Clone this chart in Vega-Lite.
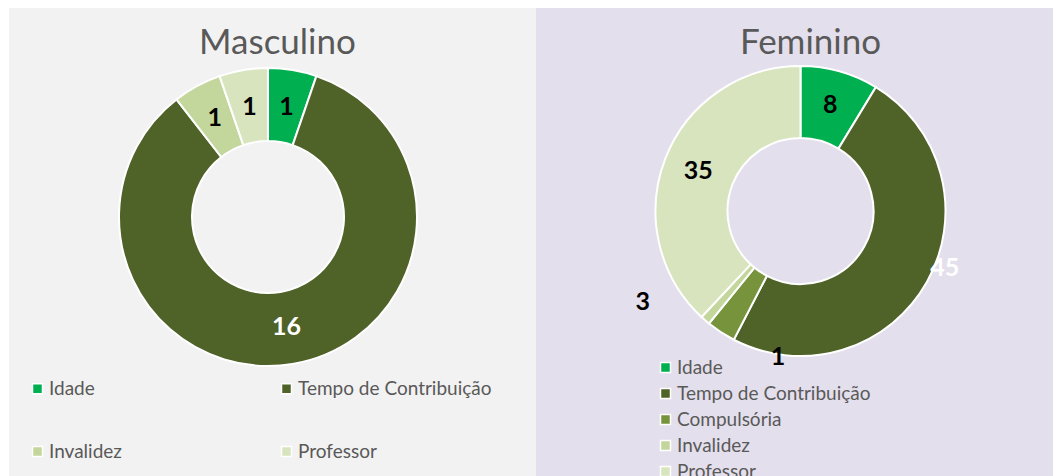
{
  "$schema": "https://vega.github.io/schema/vega-lite/v6.json",
  "background": "white",
  "padding": {"left": 9, "top": 8, "right": 0, "bottom": 0},
  "spacing": 0,
  "config": {"view": {"stroke": null}, "font": "Lato"},
  "datasets": {
    "masc": [
      {"cat": "Idade", "n": 1, "rank": 1},
      {"cat": "Tempo de Contribuição", "n": 16, "rank": 2},
      {"cat": "Invalidez", "n": 1, "rank": 4},
      {"cat": "Professor", "n": 1, "rank": 5}
    ],
    "fem": [
      {"cat": "Idade", "n": 8, "rank": 1},
      {"cat": "Tempo de Contribuição", "n": 45, "rank": 2},
      {"cat": "Compulsória", "n": 3, "rank": 3},
      {"cat": "Invalidez", "n": 1, "rank": 4},
      {"cat": "Professor", "n": 35, "rank": 5}
    ]
  },
  "resolve": {"scale": {"color": "independent", "theta": "independent"}, "legend": {"color": "independent"}},
  "hconcat": [
    {
      "width": 527,
      "height": 468,
      "view": {"fill": "#f2f2f2", "stroke": null},
      "title": {"text": "Masculino", "font": "Lato", "fontSize": 35, "fontWeight": "normal", "color": "#595959", "offset": -81, "baseline": "alphabetic", "frame": "group", "anchor": "middle", "dx": 5},
      "data": {"name": "masc"},
      "encoding": {
        "theta": {"field": "n", "type": "quantitative", "stack": true},
        "order": {"field": "rank", "type": "quantitative"}
      },
      "layer": [
        {
          "mark": {"type": "arc", "outerRadius": 149, "innerRadius": 76, "stroke": "white", "strokeWidth": 2, "x": 259, "y": 209},
          "encoding": {
            "color": {
              "field": "cat", "type": "nominal",
              "scale": {"domain": ["Idade", "Tempo de Contribuição", "Invalidez", "Professor"], "range": ["#00b050", "#4f6228", "#c3d69b", "#d7e4bd"]},
              "legend": {"orient": "none", "direction": "horizontal", "legendX": 19, "legendY": 371, "columns": 2, "title": null, "symbolType": "square", "symbolSize": 100, "symbolStrokeColor": "white", "symbolStrokeWidth": 1.5, "labelFont": "Lato", "labelFontSize": 19, "labelColor": "#595959", "labelOffset": 2, "labelLimit": 400, "rowPadding": 43, "columnPadding": 155, "padding": 0}
            }
          }
        },
        {
          "mark": {"type": "text", "radius": 112, "font": "Lato", "fontSize": 25, "fontWeight": "bold", "x": 259, "y": 209},
          "encoding": {
            "text": {"field": "n", "type": "quantitative"},
            "color": {"condition": {"test": "datum.cat === 'Tempo de Contribuição'", "value": "white"}, "value": "black"}
          }
        }
      ]
    },
    {
      "width": 517,
      "height": 468,
      "view": {"fill": "#e4dfec", "stroke": null},
      "title": {"text": "Feminino", "font": "Lato", "fontSize": 35, "fontWeight": "normal", "color": "#595959", "offset": -81, "baseline": "alphabetic", "frame": "group", "anchor": "middle", "dx": 16},
      "data": {"name": "fem"},
      "encoding": {
        "theta": {"field": "n", "type": "quantitative", "stack": true},
        "order": {"field": "rank", "type": "quantitative"}
      },
      "layer": [
        {
          "mark": {"type": "arc", "outerRadius": 145, "innerRadius": 73, "stroke": "white", "strokeWidth": 2, "x": 264.5, "y": 203},
          "encoding": {
            "color": {
              "field": "cat", "type": "nominal",
              "scale": {"domain": ["Idade", "Tempo de Contribuição", "Compulsória", "Invalidez", "Professor"], "range": ["#00b050", "#4f6228", "#77933c", "#c3d69b", "#d7e4bd"]},
              "legend": {"orient": "none", "legendX": 120, "legendY": 350, "columns": 1, "title": null, "symbolType": "square", "symbolSize": 100, "symbolStrokeColor": "white", "symbolStrokeWidth": 1.5, "labelFont": "Lato", "labelFontSize": 19, "labelColor": "#595959", "labelOffset": 2, "labelLimit": 400, "rowPadding": 6, "padding": 0}
            }
          }
        },
        {
          "mark": {"type": "text", "radius": 110, "font": "Lato", "fontSize": 25, "fontWeight": "bold", "color": "black", "x": 264.5, "y": 203},
          "encoding": {
            "text": {"condition": {"test": "datum.cat === 'Idade' || datum.cat === 'Professor'", "field": "n", "type": "quantitative"}, "value": ""}
          }
        },
        {
          "mark": {"type": "text", "radius": 155, "thetaOffset": -0.136, "font": "Lato", "fontSize": 25, "fontWeight": "bold", "color": "white", "x": 264.5, "y": 203},
          "encoding": {
            "text": {"condition": {"test": "datum.cat === 'Tempo de Contribuição'", "field": "n", "type": "quantitative"}, "value": ""}
          }
        },
        {
          "mark": {"type": "text", "radius": 182, "thetaOffset": 0.468, "font": "Lato", "fontSize": 25, "fontWeight": "bold", "color": "black", "x": 264.5, "y": 203},
          "encoding": {
            "text": {"condition": {"test": "datum.cat === 'Compulsória'", "field": "n", "type": "quantitative"}, "value": ""}
          }
        },
        {
          "mark": {"type": "text", "radius": 148, "thetaOffset": -0.564, "font": "Lato", "fontSize": 25, "fontWeight": "bold", "color": "black", "x": 264.5, "y": 203},
          "encoding": {
            "text": {"condition": {"test": "datum.cat === 'Invalidez'", "field": "n", "type": "quantitative"}, "value": ""}
          }
        }
      ]
    }
  ]
}
